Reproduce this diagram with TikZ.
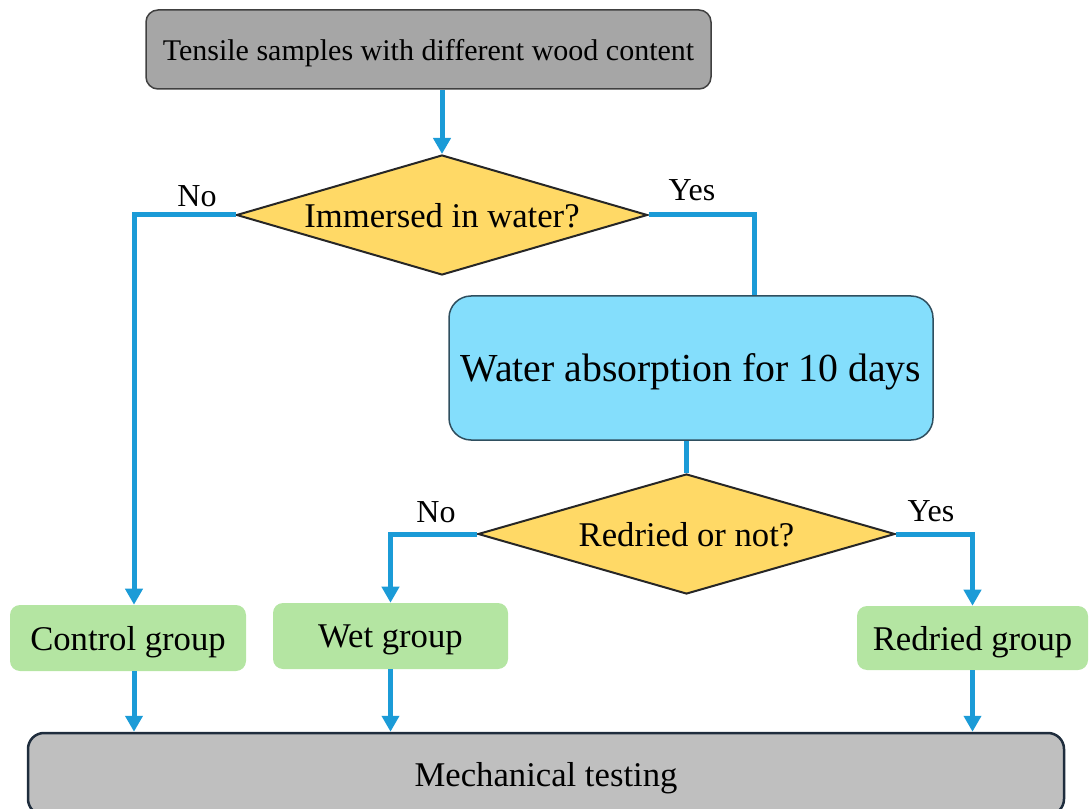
\documentclass[tikz,border=0pt]{standalone}
\usepackage{fontspec}
\setmainfont{Liberation Serif}
\usetikzlibrary{shapes.geometric,arrows.meta}
\def\px{0.75pt}
\definecolor{flowblue}{HTML}{1B9BD7}
\definecolor{topgray}{HTML}{A6A6A6}
\definecolor{topedge}{HTML}{404040}
\definecolor{diafill}{HTML}{FFD966}
\definecolor{diaedge}{HTML}{262626}
\definecolor{waterfill}{HTML}{84DEFC}
\definecolor{wateredge}{HTML}{2F4F5F}
\definecolor{groupfill}{HTML}{B4E5A2}
\definecolor{mechfill}{HTML}{BFBFBF}
\definecolor{mechedge}{HTML}{1F2D3D}
\tikzset{
  topbox/.style={draw=topedge, line width=1.5*\px, fill=topgray, rounded corners=12*\px,
    minimum width=565*\px, minimum height=79*\px, inner sep=0pt, text depth=0pt, font=\fontsize{22.5pt}{26pt}\selectfont},
  decision/.style={diamond, draw=diaedge, line width=2*\px, fill=diafill, aspect=3.4,
    inner sep=0pt, text depth=0pt, font=\fontsize{26pt}{30pt}\selectfont},
  waterbox/.style={draw=wateredge, line width=1.5*\px, fill=waterfill, rounded corners=22*\px,
    minimum width=484*\px, minimum height=144*\px, inner sep=0pt, text depth=0pt, font=\fontsize{29.8pt}{34pt}\selectfont},
  groupbox/.style={fill=groupfill, rounded corners=10*\px, minimum height=66*\px, inner sep=0pt,
    text depth=0pt, font=\fontsize{26pt}{30pt}\selectfont},
  mechbox/.style={draw=mechedge, line width=2.5*\px, fill=mechfill, rounded corners=16*\px,
    minimum width=1036*\px, minimum height=82*\px, inner sep=0pt, text depth=0pt, font=\fontsize{26pt}{30pt}\selectfont},
  flow/.style={draw=flowblue, line width=5*\px},
  flowarrow/.style={flow, -{Triangle[width=17*\px,length=16*\px]}},
  branchlabel/.style={inner sep=0pt, font=\fontsize{24pt}{28pt}\selectfont},
}
\begin{document}
\begin{tikzpicture}[x=\px, y=-\px]
\useasboundingbox (0,0) rectangle (1089,809);
\node[topbox] (top) at (428.5,49.5) {Tensile samples with different wood content};
\node[decision, minimum width=411*\px, minimum height=120*\px] (d1) at (442,215) {Immersed in water?};
\node[waterbox] (water) at (691,368) {Water absorption for 10 days};
\node[decision, minimum width=417*\px, minimum height=120*\px] (d2) at (686.5,534) {Redried or not?};
\node[groupbox, minimum width=236*\px] (control) at (128,638) {Control group};
\node[groupbox, minimum width=235*\px] (wet) at (390.5,636) {Wet group};
\node[groupbox, minimum width=231*\px, minimum height=64*\px] (redried) at (972.5,638) {Redried group};
\node[mechbox] (mech) at (546,774) {Mechanical testing};
\coordinate (yeslane) at (754,215);
\coordinate (nolane) at (134,215);
% connectors
\draw[flowarrow] (d1.north |- top.south) -- (d1.north);
\draw[flowarrow] (d1.west) -- (nolane) -- (nolane |- control.north);
\draw[flow] (d1.east) -- (yeslane) -- (yeslane |- water.north);
\draw[flow] (d2.north |- water.south) -- (d2.north);
\draw[flowarrow] (d2.west) -| (wet.north);
\draw[flowarrow] (d2.east) -| (redried.north);
\draw[flowarrow] (nolane |- control.south) -- (nolane |- mech.north);
\draw[flowarrow] (wet.south) -- (wet.south |- mech.north);
\draw[flowarrow] (redried.south) -- (redried.south |- mech.north);
% labels
\node[branchlabel] (l1) at (197,196) {No};
\node[branchlabel] (l2) at (692,190) {Yes};
\node[branchlabel] (l3) at (436,512) {No};
\node[branchlabel] (l4) at (931,511) {Yes};
\end{tikzpicture}
\end{document}
